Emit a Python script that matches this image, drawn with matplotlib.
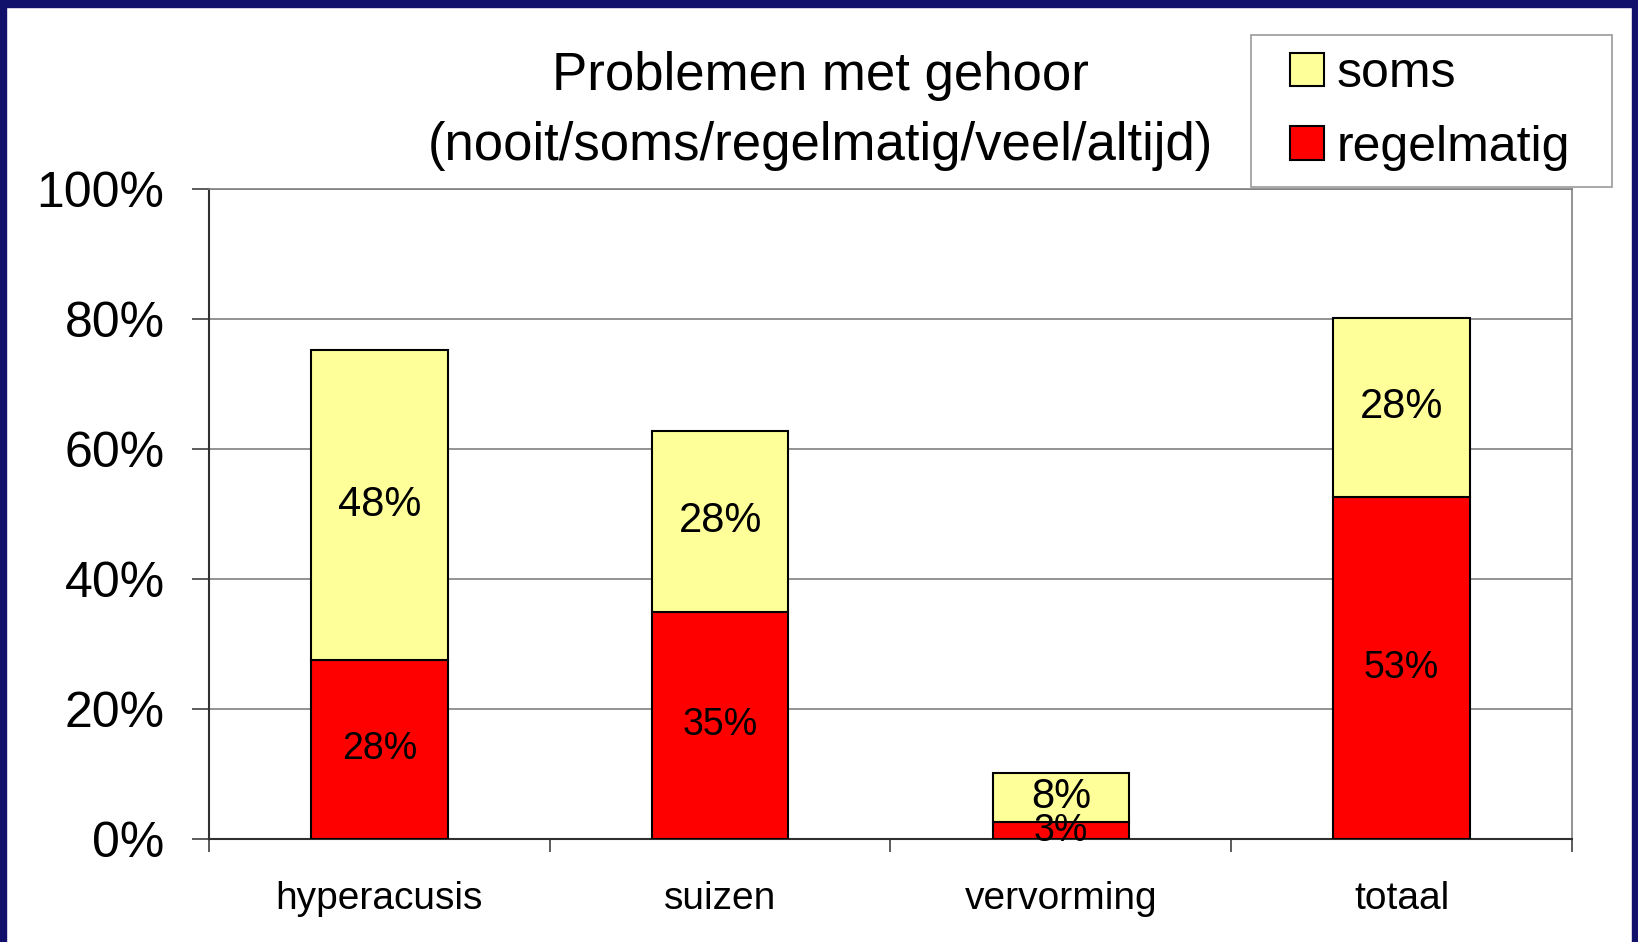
import numpy as np
import matplotlib
matplotlib.use("Agg")
import matplotlib.pyplot as plt
from matplotlib.patches import Rectangle
from matplotlib.legend_handler import HandlerPatch
from matplotlib.container import BarContainer

# data
categories = ["hyperacusis", "suizen", "vervorming", "totaal"]
regelmatig = [27.6, 35.0, 2.6, 52.6]
soms = [47.6, 27.7, 7.6, 27.6]
y_ticks = [0, 20, 40, 60, 80, 100]
title_lines = ["Problemen met gehoor", "(nooit/soms/regelmatig/veel/altijd)"]

plt.rcParams['font.family'] = ['Liberation Sans', 'DejaVu Sans']

fig = plt.figure(figsize=(16.38, 9.42), dpi=100, facecolor='white')
ax = fig.add_axes([0.1276, 0.1093, 0.8321, 0.6901])

x = np.arange(len(categories))
b1 = ax.bar(x, regelmatig, width=0.4, color='#FF0000', edgecolor='black',
            linewidth=1.5, label='regelmatig', zorder=3)
b2 = ax.bar(x, soms, width=0.4, bottom=regelmatig, color='#FFFF99',
            edgecolor='black', linewidth=1.5, label='soms', zorder=3)

ax.bar_label(b1, labels=['{:.0f}%'.format(v) for v in regelmatig],
             label_type='center', fontsize=27, zorder=4)
ax.bar_label(b2, labels=['{:.0f}%'.format(v) for v in soms],
             label_type='center', fontsize=30, zorder=4)

ax.set_xlim(-0.5, len(categories) - 0.5)
ax.set_ylim(0, 100)
ax.set_yticks(y_ticks)
ax.set_yticklabels(['{}%'.format(t) for t in y_ticks], fontsize=36)
ax.tick_params(axis='y', length=12, width=1.2, color='#404040', pad=20)
ax.set_xticks(x)
ax.set_xticklabels(categories, fontsize=28)
ax.set_xticks(np.arange(len(categories) + 1) - 0.5, minor=True)
ax.tick_params(axis='x', which='major', length=0, pad=30)
ax.tick_params(axis='x', which='minor', length=9, width=1.2, color='#404040')

ax.grid(axis='y', color='#808080', linewidth=1.2, zorder=0)
for s in ['top', 'right']:
    ax.spines[s].set_color('#808080')
    ax.spines[s].set_linewidth(1.2)
for s in ['left', 'bottom']:
    ax.spines[s].set_color('#303030')
    ax.spines[s].set_linewidth(1.5)

# title centred on the figure
fig.text(0.5007, 0.919, title_lines[0], ha='center', va='center', fontsize=38)
fig.text(0.5007, 0.845, title_lines[1], ha='center', va='center', fontsize=38)


# square legend key, pushed to the right of its slot
def square_key(legend, orig_handle, xdescent, ydescent, width, height, fontsize):
    return Rectangle((-xdescent + width - height, -ydescent), height, height)


def copy_style(legend_handle, orig_handle):
    legend_handle.update_from(orig_handle.patches[0])


handles = [b2, b1]
leg = fig.legend(handles, ['soms', 'regelmatig'], loc='upper left',
                 bbox_to_anchor=(1251 / 1638, 1 - 179 / 942, 361 / 1638, 144 / 942),
                 mode='expand', fontsize=36,
                 frameon=True, fancybox=False, edgecolor='#808080',
                 handlelength=1.13, handleheight=0.66, handletextpad=0.27,
                 labelspacing=0.55, borderpad=0.32, borderaxespad=0,
                 handler_map={BarContainer: HandlerPatch(patch_func=square_key,
                                                         update_func=copy_style)})
leg.get_frame().set_linewidth(1.2)

# navy frame around the slide
navy = '#11116B'
fig.patches.append(Rectangle((0, 0), 6 / 1638, 1, transform=fig.transFigure,
                             color=navy, zorder=10))
fig.patches.append(Rectangle((0, 1 - 7 / 942), 1, 7 / 942,
                             transform=fig.transFigure, color=navy, zorder=10))
fig.patches.append(Rectangle((1 - 6 / 1638, 0), 6 / 1638, 1,
                             transform=fig.transFigure, color=navy, zorder=10))

fig.savefig('out.png', dpi=100, facecolor='white')
